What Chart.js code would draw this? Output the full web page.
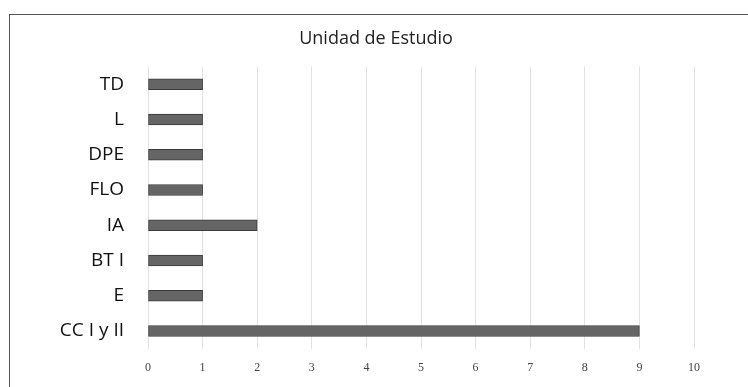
<!DOCTYPE html>
<html>
<head>
<meta charset="utf-8">
<script src="https://cdn.jsdelivr.net/npm/chart.js@4"></script>
<style>
  html, body { margin: 0; padding: 0; background: #fff; overflow: hidden; }
  #wrap { position: relative; width: 748px; height: 387px; }
  #frame {
    position: absolute; left: 9px; top: 14px; width: 760px; height: 400px;
    border-top: 1px solid #555; border-left: 1px solid #555;
  }
  canvas { position: absolute; left: 0; top: 0; }
</style>
</head>
<body>
<div id="wrap">
  <div id="frame"></div>
  <canvas id="chart" width="748" height="387"></canvas>
</div>
<script>
const categories = ["TD", "L", "DPE", "FLO", "IA", "BT I", "E", "CC I y II"];
const counts = [1, 1, 1, 1, 2, 1, 1, 9];
const axisMax = 10;

new Chart(document.getElementById("chart"), {
  type: "bar",
  data: {
    labels: categories,
    datasets: [
      {
        label: "Unidad de Estudio",
        data: counts,
        backgroundColor: "#656565",
        borderColor: "#3a3a3a",
        borderWidth: 1,
        borderSkipped: false,
        barThickness: 11,
      },
    ],
  },
  options: {
    indexAxis: "y",
    responsive: false,
    animation: false,
    layout: { padding: { left: 58, right: 54, top: 0, bottom: 0 } },
    plugins: {
      legend: { display: false },
      tooltip: { enabled: false },
      title: {
        display: true,
        text: "Unidad de Estudio",
        color: "#222",
        font: { family: "Open Sans", size: 18, weight: "normal" },
        padding: { top: 28, bottom: 17 },
      },
    },
    scales: {
      x: {
        min: 0,
        max: axisMax,
        ticks: {
          stepSize: 1,
          color: "#444",
          padding: 12,
          font: { family: "Liberation Serif", size: 12 },
        },
        grid: { color: "#e2e2e2", drawTicks: false },
        border: { display: false },
      },
      y: {
        afterFit: (scale) => { scale.width = 90; },
        ticks: {
          color: "#111",
          padding: 24,
          font: { family: "Open Sans", size: 19 },
        },
        grid: { display: false, drawTicks: false },
        border: { display: false },
      },
    },
  },
});
</script>
</body>
</html>
